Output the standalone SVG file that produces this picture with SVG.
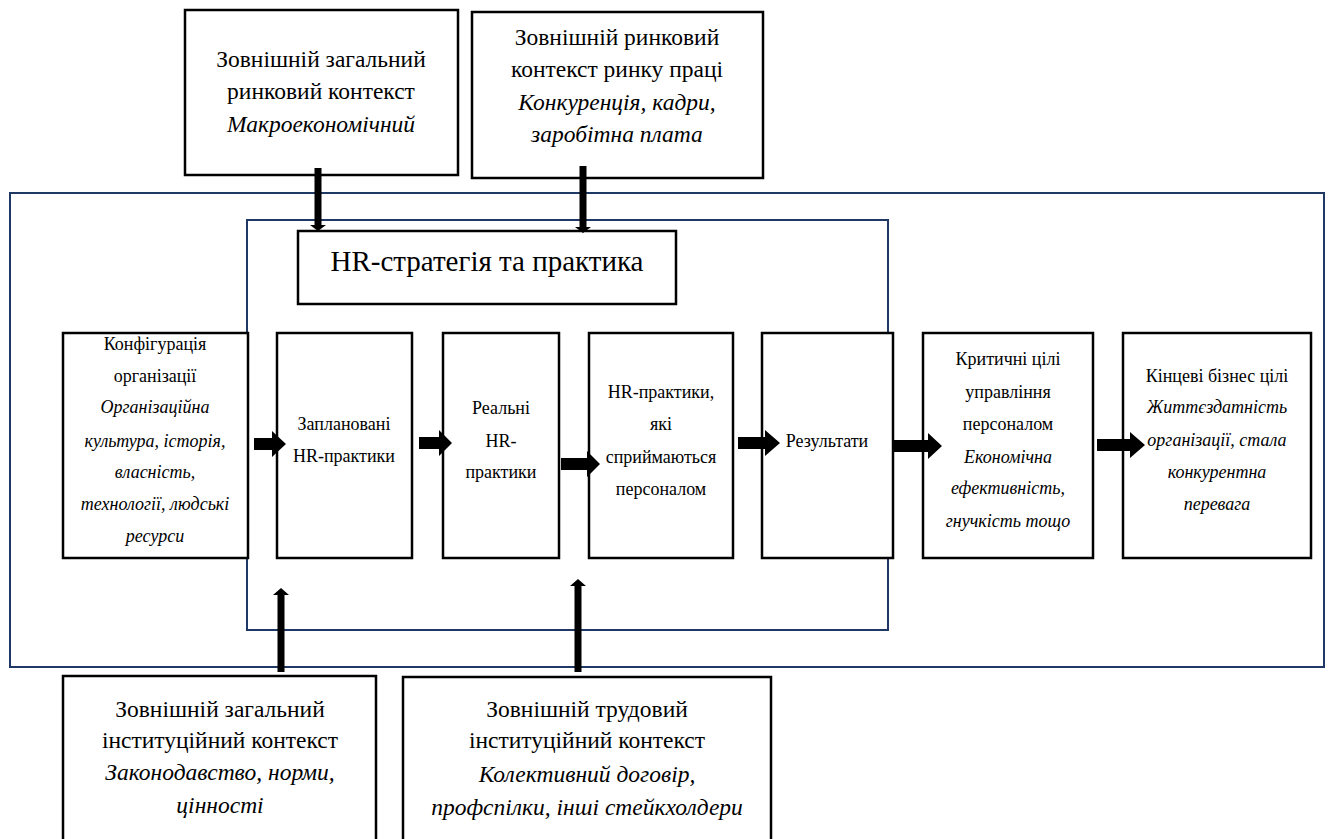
<svg xmlns="http://www.w3.org/2000/svg" width="1330" height="839" viewBox="0 0 1330 839">
<style>
.box{fill:#fff;stroke:#000;stroke-width:2.5}
.frame{fill:none;stroke:#1f3864;stroke-width:2}
text{font-family:"Liberation Serif","Times New Roman",serif;fill:#000;text-anchor:middle}
.big{font-size:23.5px}
.sm{font-size:18px}
.ttl{font-size:29px}
.it{font-style:italic}
.arr{fill:#000}
</style>
<rect width="1330" height="839" fill="#fff"/>
<g id="frames">
<rect class="frame" x="10" y="193" width="1314" height="474"/>
<rect class="frame" x="247" y="220" width="641" height="410"/>
</g>
<g id="n-macro">
<rect class="box" x="185" y="10" width="273" height="165"/>
<text class="big" x="321" y="67">Зовнішній загальний</text>
<text class="big" x="321" y="99">ринковий контекст</text>
<text class="big it" x="321" y="132">Макроекономічний</text>
</g>
<g id="n-labour-market">
<rect class="box" x="472" y="12" width="291" height="166"/>
<text class="big" x="617" y="45">Зовнішній ринковий</text>
<text class="big" x="617" y="77">контекст ринку праці</text>
<text class="big it" x="617" y="110">Конкуренція, кадри,</text>
<text class="big it" x="617" y="142">заробітна плата</text>
</g>
<g id="n-strategy">
<rect class="box" x="298" y="231" width="378" height="73"/>
<text class="ttl" x="487" y="271">HR-стратегія та практика</text>
</g>
<g id="n-config">
<rect class="box" x="63" y="333" width="185" height="225"/>
<text class="sm" x="155" y="350">Конфігурація</text>
<text class="sm" x="155" y="382">організації</text>
<text class="sm it" x="155" y="413">Організаційна</text>
<text class="sm it" x="155" y="447">культура, історія,</text>
<text class="sm it" x="155" y="478">власність,</text>
<text class="sm it" x="155" y="510">технології, людські</text>
<text class="sm it" x="155" y="542">ресурси</text>
</g>
<g id="n-planned">
<rect class="box" x="277" y="333" width="135" height="225"/>
<text class="sm" x="344" y="430">Заплановані</text>
<text class="sm" x="344" y="462">HR-практики</text>
</g>
<g id="n-real">
<rect class="box" x="443" y="333" width="116" height="225"/>
<text class="sm" x="501" y="414">Реальні</text>
<text class="sm" x="501" y="447">HR-</text>
<text class="sm" x="501" y="478">практики</text>
</g>
<g id="n-perceived">
<rect class="box" x="589" y="333" width="144" height="225"/>
<text class="sm" x="661" y="398">HR-практики,</text>
<text class="sm" x="661" y="430">які</text>
<text class="sm" x="661" y="463">сприймаються</text>
<text class="sm" x="661" y="495">персоналом</text>
</g>
<g id="n-results">
<rect class="box" x="762" y="333" width="131" height="225"/>
<text class="sm" x="827" y="447">Результати</text>
</g>
<g id="n-critical">
<rect class="box" x="923" y="333" width="170" height="225"/>
<text class="sm" x="1008" y="365">Критичні цілі</text>
<text class="sm" x="1008" y="398">управління</text>
<text class="sm" x="1008" y="430">персоналом</text>
<text class="sm it" x="1008" y="463">Економічна</text>
<text class="sm it" x="1008" y="494">ефективність,</text>
<text class="sm it" x="1008" y="527">гнучкість тощо</text>
</g>
<g id="n-final">
<rect class="box" x="1123" y="333" width="188" height="225"/>
<text class="sm" x="1217" y="382">Кінцеві бізнес цілі</text>
<text class="sm it" x="1217" y="413">Життєздатність</text>
<text class="sm it" x="1217" y="446">організації, стала</text>
<text class="sm it" x="1217" y="478">конкурентна</text>
<text class="sm it" x="1217" y="510">перевага</text>
</g>
<g id="n-institutional">
<rect class="box" x="63" y="676" width="313" height="175"/>
<text class="big" x="220" y="717">Зовнішній загальний</text>
<text class="big" x="220" y="748">інституційний контекст</text>
<text class="big it" x="220" y="780">Законодавство, норми,</text>
<text class="big it" x="220" y="813">цінності</text>
</g>
<g id="n-labour-institutional">
<rect class="box" x="403" y="677" width="368" height="175"/>
<text class="big" x="587" y="717">Зовнішній трудовий</text>
<text class="big" x="587" y="748">інституційний контекст</text>
<text class="big it" x="587" y="782">Колективний договір,</text>
<text class="big it" x="587" y="815">профспілки, інші стейкхолдери</text>
</g>
<g id="connectors">
<polygon class="arr" points="314.5,168 321.5,168 321.5,225 326,225 318,231 310,225 314.5,225"/>
<polygon class="arr" points="579.5,166 586.5,166 586.5,227 591,227 583,233 575,227 579.5,227"/>
<polygon class="arr" points="277.5,672 284.5,672 284.5,595 289,595 281,588 273,595 277.5,595"/>
<polygon class="arr" points="574.5,672 581.5,672 581.5,586 586,586 578,579 570,586 574.5,586"/>
<polygon class="arr" points="254,438 272,438 272,431 286,444 272,457 272,450 254,450"/>
<polygon class="arr" points="419,437 439,437 439,430 452,443 439,456 439,449 419,449"/>
<polygon class="arr" points="561,458 587,458 587,451 600,464 587,477 587,470 561,470"/>
<polygon class="arr" points="738,437 765,437 765,430 780,443 765,456 765,449 738,449"/>
<polygon class="arr" points="893,440 928,440 928,433 942,446 928,459 928,452 893,452"/>
<polygon class="arr" points="1097,439 1130,439 1130,432 1145,445 1130,458 1130,451 1097,451"/>
</g>
</svg>
